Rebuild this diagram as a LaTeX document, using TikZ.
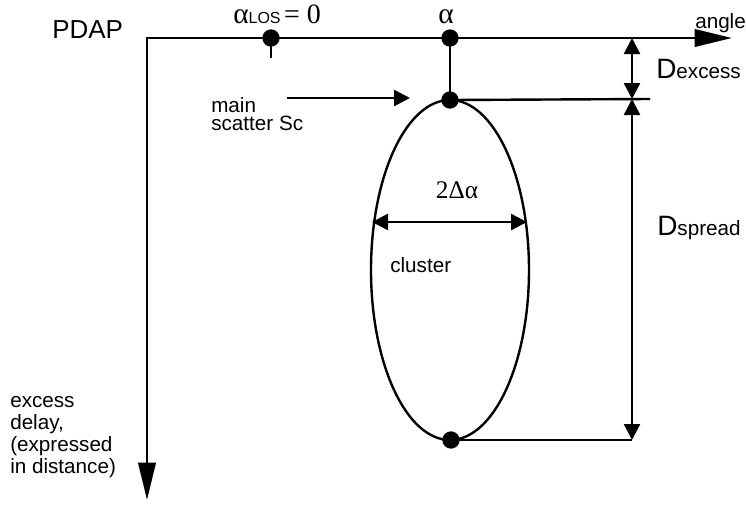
\documentclass[tikz,border=0pt]{standalone}
\usepackage{fontspec}
\setmainfont{Liberation Sans}
\newfontfamily\greekserif{Liberation Serif}
\usetikzlibrary{arrows.meta}
\tikzset{
  axisline/.style={line width=2.1pt, {Triangle[length=28pt,width=13pt]}-{Triangle[length=28pt,width=13pt]}},
  thin line/.style={line width=1.8pt},
  dbl/.style={line width=1.8pt, {Triangle[length=12pt,width=12pt]}-{Triangle[length=12pt,width=12pt]}},
  single/.style={line width=1.8pt, -{Triangle[length=12pt,width=12pt]}},
  dot/.style={circle, fill=black, inner sep=0pt, minimum size=13pt},
  lbl/.style={inner sep=0pt, font=\fontsize{15.5}{16.5}\selectfont},
}
\begin{document}
\begin{tikzpicture}[x=0.75pt,y=-0.75pt]
\useasboundingbox (0,0) rectangle (746,504);
% axes
\coordinate (O) at (147,38);
\coordinate (Xend) at (732,38);
\coordinate (Yend) at (147,500);
\draw[axisline] (Xend) -- (O) -- (Yend);
% cluster
\draw[thin line] (450,270) ellipse [x radius=59.25pt, y radius=127.5pt];
% dots
\node[dot] (los) at (271,38) {};
\node[dot] (al) at (450,38) {};
\node[dot] (top) at (450,100) {};
\node[dot] (bot) at (451,440) {};
\coordinate (tick) at (271,58);
\draw[thin line] (los.center) -- (tick);
\draw[thin line] (al.center) -- (top.center);
\coordinate (topR) at (650,99);
\coordinate (botR) at (632,440);
\draw[thin line] (top.center) -- (topR);
\draw[thin line] (bot.center) -- (botR);
% D arrows
\coordinate (dx1) at (632,38);
\coordinate (dx2) at (632,99);
\coordinate (dx3) at (632,440);
\draw[dbl] (dx1) -- (dx2);
\draw[dbl] (dx2) -- (dx3);
% width arrow
\coordinate (wL) at (372,222);
\coordinate (wR) at (527,222);
\draw[dbl] (wL) -- (wR);
% main scatter arrow
\coordinate (msA) at (287,98);
\coordinate (msB) at (410,98);
\draw[single] (msA) -- (msB);
% labels
\node[lbl, anchor=base west, font=\fontsize{19.5}{20}\selectfont] (pdap) at (52,38) {PDAP};
\node[lbl, anchor=base west] (angle) at (695,28) {angle};
\node[lbl, anchor=base west] (dexc) at (656,78) {{\fontsize{21}{21}\selectfont D}excess};
\node[lbl, anchor=base west] (dspr) at (657,235) {{\fontsize{21}{21}\selectfont D}spread};
\node[lbl, anchor=base west] (clus) at (390,272) {cluster};
\node[lbl, anchor=base, font=\fontsize{19}{20}\greekserif] (wid) at (457,198) {2Δα};
\node[lbl, anchor=base, font=\fontsize{22}{22}\greekserif] (alab) at (446,23) {α};
\node[lbl, anchor=base west] (loslab) at (233,23) {{\fontsize{22}{22}\greekserif α}{\fontsize{12}{12}\selectfont LOS}\,{\fontsize{21}{21}\greekserif = 0}};
\node[lbl, anchor=west, align=left, font=\fontsize{15.5}{14}\selectfont] (mainsc) at (211,114) {main\\scatter Sc};
\node[lbl, anchor=west, align=left] (exd) at (10,437) {excess\\delay,\\(expressed\\in distance)};
\end{tikzpicture}
\end{document}
